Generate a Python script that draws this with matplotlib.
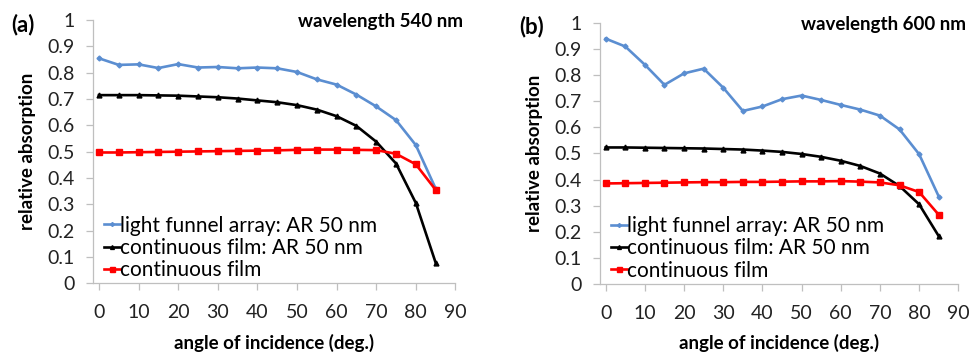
import matplotlib
matplotlib.use("Agg")
import matplotlib.pyplot as plt
import numpy as np

plt.rcParams['font.family'] = ['Lato', 'DejaVu Sans']

# angle of incidence (deg.)
angles = [0, 5, 10, 15, 20, 25, 30, 35, 40, 45, 50, 55, 60, 65, 70, 75, 80, 85]

# (a) wavelength 540 nm
funnel_540 = [0.855, 0.830, 0.832, 0.818, 0.833, 0.820, 0.822, 0.817, 0.820, 0.817,
              0.803, 0.775, 0.755, 0.717, 0.672, 0.620, 0.525, 0.360]
film_ar_540 = [0.715, 0.715, 0.715, 0.714, 0.713, 0.710, 0.707, 0.702, 0.695, 0.688,
               0.677, 0.660, 0.635, 0.598, 0.538, 0.455, 0.305, 0.078]
film_540 = [0.497, 0.497, 0.498, 0.499, 0.500, 0.501, 0.502, 0.503, 0.504, 0.505,
            0.507, 0.508, 0.508, 0.507, 0.506, 0.492, 0.452, 0.355]

# (b) wavelength 600 nm
funnel_600 = [0.940, 0.910, 0.840, 0.763, 0.807, 0.825, 0.752, 0.663, 0.680, 0.708,
              0.722, 0.705, 0.686, 0.668, 0.645, 0.592, 0.497, 0.335]
film_ar_600 = [0.523, 0.523, 0.522, 0.521, 0.520, 0.519, 0.517, 0.515, 0.511, 0.506,
               0.498, 0.487, 0.472, 0.452, 0.423, 0.375, 0.305, 0.183]
film_600 = [0.385, 0.386, 0.387, 0.388, 0.389, 0.390, 0.390, 0.391, 0.391, 0.392,
            0.393, 0.393, 0.394, 0.392, 0.389, 0.378, 0.352, 0.265]

labels = ["light funnel array: AR 50 nm", "continuous film: AR 50 nm", "continuous film"]
xticks = [0, 10, 20, 30, 40, 50, 60, 70, 80, 90]
yticks = [0, 0.1, 0.2, 0.3, 0.4, 0.5, 0.6, 0.7, 0.8, 0.9, 1]
ytick_labels = ["0", "0.1", "0.2", "0.3", "0.4", "0.5", "0.6", "0.7", "0.8", "0.9", "1"]

fig = plt.figure(figsize=(9.69, 3.54), dpi=100)
ax1 = fig.add_axes([0.096, 0.200, 0.374, 0.743])
ax2 = fig.add_axes([0.619, 0.198, 0.370, 0.737])

blue = '#5B8ED1'
gray = '#BFBFBF'

def panel(ax, funnel, film_ar, film, tag, title):
    ax.plot(angles, funnel, color=blue, lw=1.9, marker='D', ms=2.5, label=labels[0])
    ax.plot(angles, film_ar, color='black', lw=1.9, marker='^', ms=3.5, label=labels[1])
    ax.plot(angles, film, color='#FF0000', lw=1.9, marker='s', ms=4.5, label=labels[2])
    ax.set_xlim(-1.5, 90)
    ax.set_ylim(0, 1)
    ax.set_xticks(xticks)
    ax.set_yticks(yticks)
    ax.set_yticklabels(ytick_labels)
    for s in ['top', 'right']:
        ax.spines[s].set_visible(False)
    for s in ['left', 'bottom']:
        ax.spines[s].set_color(gray)
        ax.spines[s].set_linewidth(0.9)
    ax.tick_params(axis='both', colors=gray, length=5, width=0.9, labelsize=14,
                   labelcolor='#222222')
    ax.tick_params(axis='y', pad=8)
    ax.tick_params(axis='x', pad=10)
    ax.set_ylabel('relative absorption', fontsize=13.5, fontweight='bold', labelpad=8)
    ax.set_xlabel('angle of incidence (deg.)', fontsize=13.5, fontweight='bold', labelpad=9)
    ax.legend(loc='lower left', bbox_to_anchor=(-0.005, -0.035), frameon=False, fontsize=15,
              handlelength=0.78, handletextpad=0.0, labelspacing=0.1, borderpad=0.1,
              markerscale=0.8)
    ax.text(1.02, 0.995, title, transform=ax.transAxes, ha='right', va='center',
            fontsize=13.5, fontweight='bold')
    ax.text(-0.225, 0.985, tag, transform=ax.transAxes, ha='left', va='center',
            fontsize=16, fontweight='bold')

panel(ax1, funnel_540, film_ar_540, film_540, '(a)', 'wavelength 540 nm')
panel(ax2, funnel_600, film_ar_600, film_600, '(b)', 'wavelength 600 nm')

fig.savefig('out.png', dpi=100)
